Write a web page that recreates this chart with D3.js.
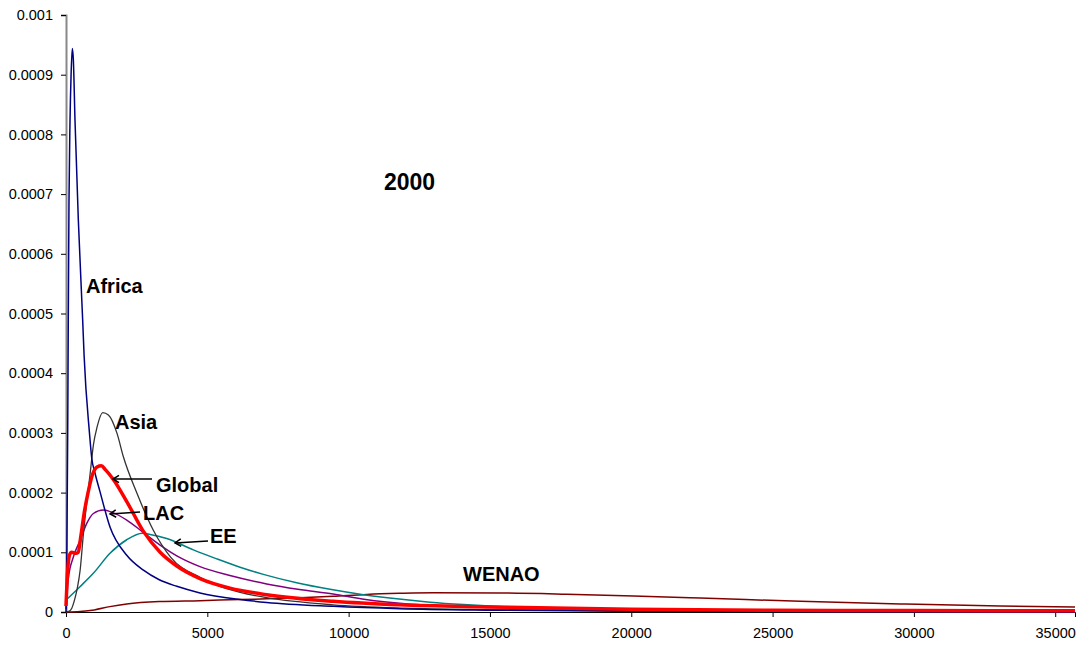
<!DOCTYPE html>
<html>
<head>
<meta charset="utf-8">
<script src="https://cdn.jsdelivr.net/npm/d3@7"></script>
<style>
  html, body { margin: 0; padding: 0; background: #fff; }
  svg { display: block; font-family: "Liberation Sans", Arial, sans-serif; }
</style>
</head>
<body>
<svg id="chart" width="1087" height="647"></svg>
<script>
// ---- data (income x, density y) ----
const xTicks = [0, 5000, 10000, 15000, 20000, 25000, 30000, 35000];
const yTicks = [0, 0.0001, 0.0002, 0.0003, 0.0004, 0.0005, 0.0006, 0.0007, 0.0008, 0.0009, 0.001];
const yTickLabels = ["0", "0.0001", "0.0002", "0.0003", "0.0004", "0.0005", "0.0006", "0.0007", "0.0008", "0.0009", "0.001"];

const africa = [[0,0],[10,0.00002],[30,0.0001],[60,0.0003],[81,0.00049],[106,0.00069],[141,0.00082],[180,0.0009],[223,0.000944],
  [260,0.000925],[318,0.000824],[436,0.000657],[590,0.000489],[640,0.00043],[830,0.0003],[910,0.000258],[1030,0.000232],
  [1200,0.000202],[1560,0.000142],[2150,0.000095],[2740,0.00007],[3300,0.000054],[3920,0.000043],[4740,0.000032],
  [6160,0.000021],[7100,0.000016],[9450,0.0000095],[11800,0.0000055],[15000,0.000003],[20000,0.0000014],
  [25000,0.0000007],[30000,0.0000004],[35700,0.0000002]];

const asia = [[0,0],[100,0.000001],[200,0.000006],[300,0.00002],[400,0.00004],[500,0.00007],[614,0.00013],[750,0.00019],
  [850,0.00023],[970,0.00028],[1100,0.00031],[1300,0.000334],[1500,0.00033],[1800,0.0003],[2030,0.00026],[2500,0.0002],
  [3090,0.000137],[3700,0.000092],[4740,0.000058],[5330,0.000045],[6160,0.000033],[7100,0.000024],[9450,0.000012],
  [12000,0.0000065],[15000,0.000004],[20000,0.000002],[25000,0.000001],[30000,0.0000006],[35700,0.0000004]];

const global = [[0,0.00001],[60,0.00007],[120,0.000095],[200,0.0001],[350,0.0000985],[430,0.0001],[520,0.000125],
  [640,0.000165],[780,0.0002],[950,0.000232],[1100,0.000243],[1250,0.000245],[1400,0.000238],[1675,0.000222],
  [2150,0.000185],[2740,0.000135],[3330,0.0001],[3920,0.000077],[4740,0.000056],[5800,0.00004],[7100,0.000029],
  [9450,0.000018],[11800,0.000012],[15000,0.0000085],[20000,0.0000045],[25000,0.000003],[30000,0.0000025],[35700,0.000002]];

const lac = [[0,0.000005],[80,0.000055],[260,0.000092],[500,0.00012],[730,0.000148],[970,0.000165],[1320,0.000171],
  [1680,0.000166],[2150,0.000154],[2740,0.000133],[3330,0.000112],[3920,0.000094],[4740,0.000076],[5800,0.000061],
  [7100,0.000047],[8200,0.000038],[9450,0.00003],[10600,0.000021],[12000,0.000014],[13000,0.000011],[15000,0.0000075],
  [20000,0.0000035],[25000,0.000002],[30000,0.0000012],[35700,0.0000008]];

const ee = [[0,0.00002],[495,0.0000424],[967,0.0000648],[1557,0.0000983],[2148,0.000121],[2700,0.000132],[2973,0.00013],
  [3563,0.000123],[4506,0.000104],[5333,0.000089],[6158,0.000075],[6983,0.000063],[8160,0.000049],[9340,0.000038],
  [10520,0.000029],[11700,0.000022],[12880,0.0000165],[14060,0.0000125],[15000,0.00001],[17500,0.0000055],[20000,0.0000032],
  [25000,0.0000015],[30000,0.0000008],[35700,0.0000005]];

const wenao = [[0,0],[500,0.000001],[1000,0.0000035],[1550,0.000009],[2150,0.0000135],[3300,0.0000175],[4740,0.000019],
  [6160,0.000021],[7100,0.000022],[8280,0.000024],[9450,0.0000265],[10640,0.0000295],[11800,0.0000312],[13000,0.0000322],
  [15360,0.0000318],[17720,0.0000298],[20080,0.000027],[22440,0.0000235],[25980,0.0000178],[29520,0.0000135],
  [33060,0.00001],[35700,0.0000082]];

const seriesNames = ["WENAO", "EE", "LAC", "Asia", "Africa", "Global"];
const seriesData = [wenao, ee, lac, asia, africa, global];
const seriesColors = ["#800000", "#008080", "#800080", "#333333", "#000080", "#ff0000"];
const seriesWidths = [1.5, 1.5, 1.5, 1.3, 1.5, 3.5];

const labelTexts = ["Africa", "Asia", "Global", "LAC", "EE", "WENAO"];
const labelPos = [[86, 293], [115, 429], [156, 492], [143, 520], [210, 543], [463, 581]];
// arrows: [fromX, fromY, toX, toY] in pixel space (annotations)
const arrows = [[152, 479, 113, 479], [140, 512, 110, 514], [208, 541, 175, 543]];
const title = "2000";

// ---- chart ----
const svg = d3.select("#chart");
const x = d3.scaleLinear().domain([0, 35700]).range([66, 1075]);
const y = d3.scaleLinear().domain([0, 0.001]).range([612, 15]);

// axes
const yAxis = d3.axisLeft(y).tickValues(yTicks).tickFormat((d, i) => yTickLabels[i]).tickSize(5).tickPadding(8);
const gy = svg.append("g").attr("transform", "translate(66,0)").call(yAxis);
gy.select(".domain").attr("stroke", "#888").attr("stroke-width", 2);
gy.selectAll(".tick line").attr("stroke", "#000");
gy.selectAll("text").attr("font-size", 14.5).attr("fill", "#000").attr("font-family", "Liberation Sans, Arial, sans-serif");

const xAxis = d3.axisBottom(x).tickValues(xTicks).tickFormat(d3.format("d")).tickSize(5).tickPadding(11);
const gx = svg.append("g").attr("transform", "translate(0,612)").call(xAxis);
gx.select(".domain").attr("stroke", "#000");
gx.selectAll(".tick line").attr("stroke", "#000");
gx.selectAll("text").attr("font-size", 14.5).attr("fill", "#000").attr("font-family", "Liberation Sans, Arial, sans-serif");

// curves
const line = d3.line().x(d => x(d[0])).y(d => y(d[1])).curve(d3.curveMonotoneX);
svg.append("g").selectAll("path").data(seriesData).join("path")
  .attr("d", d => line(d))
  .attr("fill", "none")
  .attr("stroke", (d, i) => seriesColors[i])
  .attr("stroke-width", (d, i) => seriesWidths[i])
  .attr("stroke-linejoin", "round");

// arrows
const ag = svg.append("g").attr("stroke", "#000").attr("stroke-width", 1.5).attr("fill", "none");
arrows.forEach(a => {
  const [x1, y1, x2, y2] = a;
  ag.append("line").attr("x1", x1).attr("y1", y1).attr("x2", x2).attr("y2", y2);
  const ang = Math.atan2(y1 - y2, x1 - x2);
  const L = 7, s = 0.55;
  ag.append("path").attr("d",
    `M${x2 + L * Math.cos(ang + s)},${y2 + L * Math.sin(ang + s)} L${x2},${y2} L${x2 + L * Math.cos(ang - s)},${y2 + L * Math.sin(ang - s)}`);
});

// labels
svg.append("g").selectAll("text").data(labelTexts).join("text")
  .attr("x", (d, i) => labelPos[i][0])
  .attr("y", (d, i) => labelPos[i][1])
  .attr("font-size", 20).attr("font-weight", "bold").attr("fill", "#000")
  .text(d => d);

svg.append("text").attr("x", 384).attr("y", 190)
  .attr("font-size", 23).attr("font-weight", "bold").attr("fill", "#000").text(title);
</script>
</body>
</html>
